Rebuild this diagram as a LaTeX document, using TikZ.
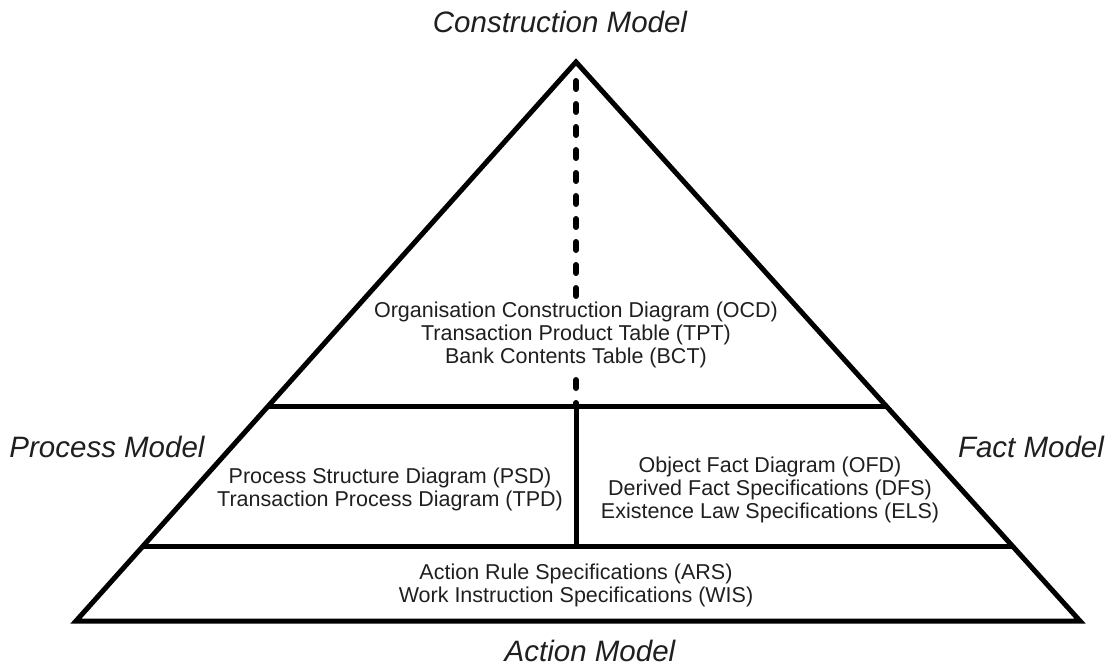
\documentclass[tikz,border=0pt]{standalone}
\usepackage{fontspec}
\setmainfont{Liberation Sans}
\usetikzlibrary{calc}

\begin{document}
\begin{tikzpicture}[x=1pt,y=-1pt,
        every node/.style={align=center,text=black!88,font=\fontsize{21.5}{23}\selectfont},
        modelname/.style={font=\fontsize{29.5}{32}\selectfont\itshape},
        coverbox/.style={fill=white,inner sep=2pt},
        edge/.style={line width=5pt,line join=miter},
        dashline/.style={line width=6pt,line cap=round,dash pattern=on 8pt off 15pt}]
    \useasboundingbox (0,0) rectangle (1107,668);
    % corners of the pyramid and the ends of the dividers
    \coordinate (top) at (576,62);
    \coordinate (bl) at (76,621);
    \coordinate (br) at (1080,621);
    \coordinate (ul) at ($(top)!0.6154!(bl)$);
    \coordinate (ur) at ($(top)!0.6154!(br)$);
    \coordinate (ll) at ($(top)!0.8676!(bl)$);
    \coordinate (lr) at ($(top)!0.8676!(br)$);
    \coordinate (dtop) at (576,81);
    \coordinate (cu) at (576,406);
    \coordinate (cl) at (576,547);

    \draw[dashline] (dtop) -- (cu);

    \node[coverbox] (ocd) at (576,335) {Organisation Construction Diagram (OCD)\\Transaction Product Table (TPT)\\Bank Contents Table (BCT)};
    \node (psd) at (390,489) {Process Structure Diagram (PSD)\\Transaction Process Diagram (TPD)};
    \node (ofd) at (770,490) {Object Fact Diagram (OFD)\\Derived Fact Specifications (DFS)\\Existence Law Specifications (ELS)};
    \node (ars) at (576,585) {Action Rule Specifications (ARS)\\Work Instruction Specifications (WIS)};

    \draw[edge] (top) -- (br) -- (bl) -- cycle;
    \draw[edge] (ul) -- (ur);
    \draw[edge] (ll) -- (lr);
    \draw[edge] (cu) -- (cl);

    \node[modelname] (cm) at (560,22) {Construction Model};
    \node[modelname] (pm) at (107,447) {Process Model};
    \node[modelname] (fm) at (1031,447) {Fact Model};
    \node[modelname,inner sep=0pt] (am) at (590,651) {Action Model};
\end{tikzpicture}
\end{document}
